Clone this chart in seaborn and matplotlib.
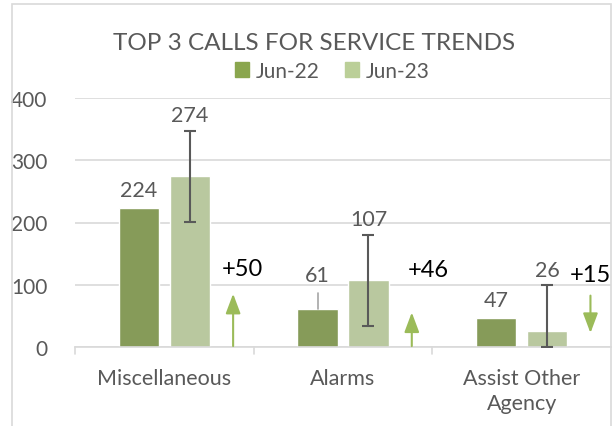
import matplotlib
matplotlib.use("Agg")
import matplotlib.pyplot as plt
import seaborn as sns
import pandas as pd
from matplotlib.patches import Rectangle

# data
categories = ["Miscellaneous", "Alarms", "Assist Other\nAgency"]
periods = ["Jun-22", "Jun-23"]
jun22 = [224, 61, 47]
jun23 = [274, 107, 26]
jun23_err = [73, 73, 73]
change_labels = ["+50", "+46", "+15"]
change_dir = ["up", "up", "down"]
yticks = [0, 100, 200, 300, 400]

GREEN_DARK = "#8AA64E"
GREEN_LIGHT = "#BBCF98"
ARROW = "#9BBB59"
GREY = "#595959"

df = pd.DataFrame({
    "category": categories * 2,
    "period": [periods[0]] * 3 + [periods[1]] * 3,
    "calls": jun22 + jun23,
})

sns.set_style("white")
plt.rcParams["font.family"] = ["Lato", "DejaVu Sans"]

fig = plt.figure(figsize=(6.16, 4.27), dpi=100)
ax = fig.add_axes([75 / 616, (427 - 348) / 427, (611 - 75) / 616, (348 - 99) / 427])

sns.barplot(data=df, x="category", y="calls", hue="period", order=categories,
            hue_order=periods, palette=[GREEN_DARK, GREEN_LIGHT],
            width=0.57, gap=0.21, errorbar=None, ax=ax, legend=False)

ax.set_ylim(0, 400)
ax.set_xlim(-0.5, 2.5)
ax.set_yticks(yticks)
ax.yaxis.grid(True, color="#D9D9D9", lw=1.2)
ax.set_axisbelow(True)
for s in ["top", "right", "left"]:
    ax.spines[s].set_visible(False)
ax.spines["bottom"].set_color("#D9D9D9")
ax.spines["bottom"].set_linewidth(1.2)
ax.set_xlabel("")
ax.set_ylabel("")
ax.tick_params(axis="y", length=0, pad=20, labelsize=15, labelcolor=GREY)
ax.set_xticks(range(len(categories)))
ax.set_xticklabels(categories, fontsize=15.5, color=GREY, linespacing=1.3)
ax.tick_params(axis="x", length=0, pad=15)
# category separator ticks
for b in [-0.5, 0.5, 1.5]:
    ax.plot([b, b], [0, -0.03], transform=ax.get_xaxis_transform(),
            color="#D9D9D9", lw=1.2, clip_on=False)

bars22 = ax.patches[:3]
bars23 = ax.patches[3:6]
x22 = [p.get_x() + p.get_width() / 2 for p in bars22]
x23 = [p.get_x() + p.get_width() / 2 for p in bars23]

# error bars on Jun-23
lo = [min(e, v) for v, e in zip(jun23, jun23_err)]
ax.errorbar(x23, jun23, yerr=[lo, jun23_err], fmt="none", ecolor=GREY,
            elinewidth=1.5, capsize=4.5, capthick=1.5, zorder=5)

# value labels
for x, v in zip(x22, jun22):
    off = 26 if v == 61 else 0
    if off:
        ax.plot([x, x], [v, v + off], color="#A6A6A6", lw=1.2)
    ax.text(x, v + off + 12, str(v), ha="center", va="bottom", fontsize=15.5, color=GREY)
for x, v, e in zip(x23, jun23, jun23_err):
    top = v + e
    ax.text(x, top + 10 if v > 100 else top + 8, str(v), ha="center",
            va="bottom", fontsize=15.5, color=GREY, clip_on=False)

# change arrows
head = "-|>,head_width=0.45,head_length=1.2"
for i, (lab, d) in enumerate(zip(change_labels, change_dir)):
    xa = i + 0.385
    if d == "up":
        y1 = 90 if i == 0 else 60
        ax.annotate("", xy=(xa, y1), xytext=(xa, -3),
                    arrowprops=dict(arrowstyle=head, color=ARROW, lw=1.5),
                    annotation_clip=False)
        ax.text(xa + (0.05 if i == 0 else 0.09), y1 + 20 if i == 0 else y1 + 48, lab,
                ha="center", va="bottom", fontsize=17, color="black")
    else:
        ax.annotate("", xy=(xa, 18), xytext=(xa, 87),
                    arrowprops=dict(arrowstyle=head, color=ARROW, lw=1.5))
        ax.text(xa, 100, lab, ha="center", va="bottom", fontsize=17, color="black")

# title and legend
fig.text(314 / 616, (427 - 43) / 427, "TOP 3 CALLS FOR SERVICE TRENDS",
         ha="center", va="center", fontsize=17.5, color=GREY)
handles = [Rectangle((0, 0), 1, 1, color=c) for c in [GREEN_DARK, GREEN_LIGHT]]
fig.legend(handles, periods, loc="center", bbox_to_anchor=(332 / 616, (427 - 72) / 427),
           ncol=2, frameon=False, fontsize=15, handlelength=0.7, handleheight=0.7,
           handletextpad=0.3, columnspacing=1.2, labelcolor=GREY, borderpad=0)

# chart frame
fig.patches.append(Rectangle((12 / 616, -0.05), (611 - 12) / 616, 1.0 - 5 / 427 + 0.05,
                             transform=fig.transFigure, fill=False,
                             edgecolor="#D9D9D9", lw=1.2))

fig.savefig("out.png", dpi=100)
